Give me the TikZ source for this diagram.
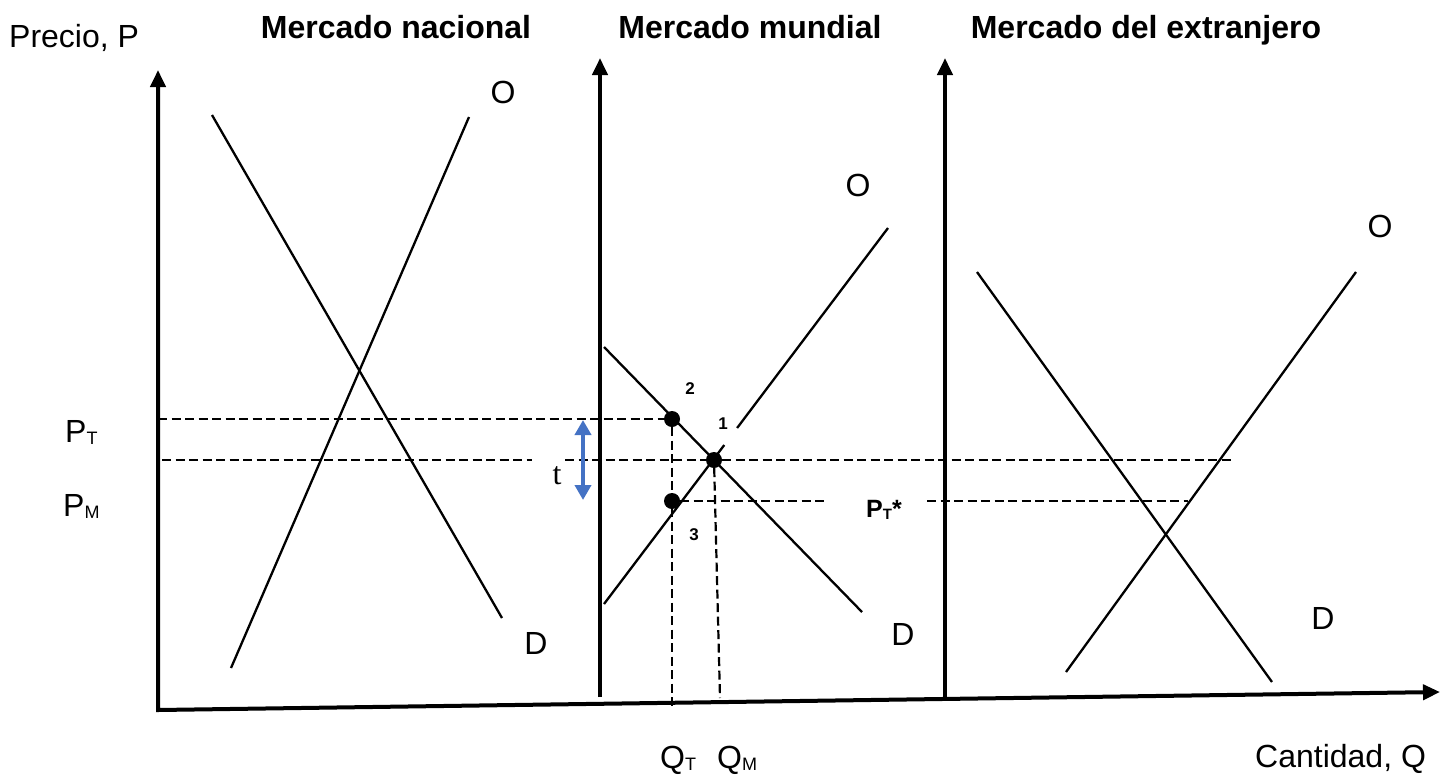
\documentclass[tikz,border=0pt]{standalone}
\usepackage{fontspec}
\setmainfont{Liberation Sans}
\newfontfamily\serifx{Liberation Serif}
\usetikzlibrary{arrows.meta}
\definecolor{tblue}{RGB}{68,114,196}
\newcommand\lsub[1]{\raisebox{-2pt}{\fontsize{18}{20}\selectfont #1}}
\begin{document}
\begin{tikzpicture}[x=1pt,y=-1pt,
 axis/.style={line width=4pt, line join=miter},
 tip/.style={-{Triangle[length=17pt,width=15pt]}},
 curve/.style={line width=2.3pt},
 guide/.style={line width=2.2pt, dash pattern=on 9pt off 4.5pt},
 lbl/.style={font=\fontsize{32}{36}\selectfont, inner sep=0pt},
 ttl/.style={font=\bfseries\fontsize{32}{36}\selectfont, inner sep=0pt},
 num/.style={font=\bfseries\fontsize{17}{19}\selectfont, inner sep=0pt},
 dot/.style={circle, fill=black, inner sep=0pt, minimum size=16pt},
 tarrow/.style={line width=4pt, draw=tblue, {Triangle[length=15pt,width=16pt]}-{Triangle[length=15pt,width=16pt]}},
]
\useasboundingbox (0,0) rectangle (1453,774);

% axes
\coordinate (o) at (158,710);
\coordinate (ytop) at (158,70);
\coordinate (xend) at (1440,692);
\draw[axis, {Triangle[length=17pt,width=15pt]}-{Triangle[length=17pt,width=15pt]}] (ytop) -- (o) -- (xend);
\coordinate (m0) at (600,697);
\coordinate (m1) at (600,58);
\draw[axis, tip] (m0) -- (m1);
\coordinate (f0) at (945,697);
\coordinate (f1) at (945,58);
\draw[axis, tip] (f0) -- (f1);

% titles and axis labels
\node[lbl, anchor=base west] (yl) at (9,47) {Precio, P};
\node[ttl, anchor=base] (t1) at (396,38) {Mercado nacional};
\node[ttl, anchor=base] (t2) at (750,38) {Mercado mundial};
\node[ttl, anchor=base] (t3) at (1146,38) {Mercado del extranjero};
\node[lbl, anchor=base west] (xl) at (1255,767) {Cantidad, Q};

% domestic market
\draw[curve] (231,668) -- (469,117);
\draw[curve] (212,115) -- (502,618);
\node[lbl] (o1) at (503,92) {O};
\node[lbl] (d1) at (536,643) {D};

% world market
\draw[curve] (604,604) -- (724.3,445);
\draw[curve] (737.1,428) -- (888,228);
\draw[curve] (604,347) -- (862,612);
\node[lbl] (o2) at (858,185) {O};
\node[lbl] (d2) at (903,634) {D};

% foreign market
\draw[curve] (1066,672) -- (1356,272);
\draw[curve] (977,272) -- (1272,682);
\node[lbl] (o3) at (1380,226) {O};
\node[lbl] (d3) at (1323,618) {D};

% points
\node[dot] (p2) at (672,419) {};
\node[dot] (p1) at (714,460) {};
\node[dot] (p3) at (672,501) {};
\node[num] (n2) at (690,389) {2};
\node[num] (n1) at (723,424) {1};
\node[num] (n3) at (694,535) {3};

% guides
\coordinate (pt0) at (158,419);
\draw[guide] (pt0) -- (p2);
\coordinate (pm0) at (162,460);
\coordinate (pm1) at (532,460);
\coordinate (pm2) at (565,460);
\coordinate (pm3) at (1232,460);
\draw[guide] (pm0) -- (pm1);
\draw[guide] (pm2) -- (p1) -- (pm3);
\coordinate (ps1) at (826,501);
\coordinate (ps2) at (927,501);
\coordinate (ps3) at (1188,501);
\draw[guide] (p3) -- (ps1);
\draw[guide] (ps2) -- (ps3);
\coordinate (qt) at (672,708);
\coordinate (qm) at (720,698);
\draw[guide] (p2) -- (qt);
\draw[guide] (p1) -- (qm);

% tariff arrow
\coordinate (ta) at (583,420);
\coordinate (tb) at (583,500);
\draw[tarrow] (ta) -- (tb);
\node[lbl, font=\serifx\fontsize{32}{36}\selectfont, anchor=base] (tl) at (557,484) {t};

% price / quantity labels
\node[lbl, anchor=base west] (lpt) at (65,442) {P\lsub{T}};
\node[lbl, anchor=base west] (lpm) at (63,516) {P\lsub{M}};
\node[lbl, anchor=base west] (lqt) at (660,768) {Q\lsub{T}};
\node[lbl, anchor=base west] (lqm) at (717,768) {Q\lsub{M}};
\node[ttl, font=\bfseries\fontsize{25}{28}\selectfont, anchor=base west] (lps) at (866,517) {P\raisebox{-2pt}{\fontsize{15}{18}\selectfont T}*};
\end{tikzpicture}
\end{document}
